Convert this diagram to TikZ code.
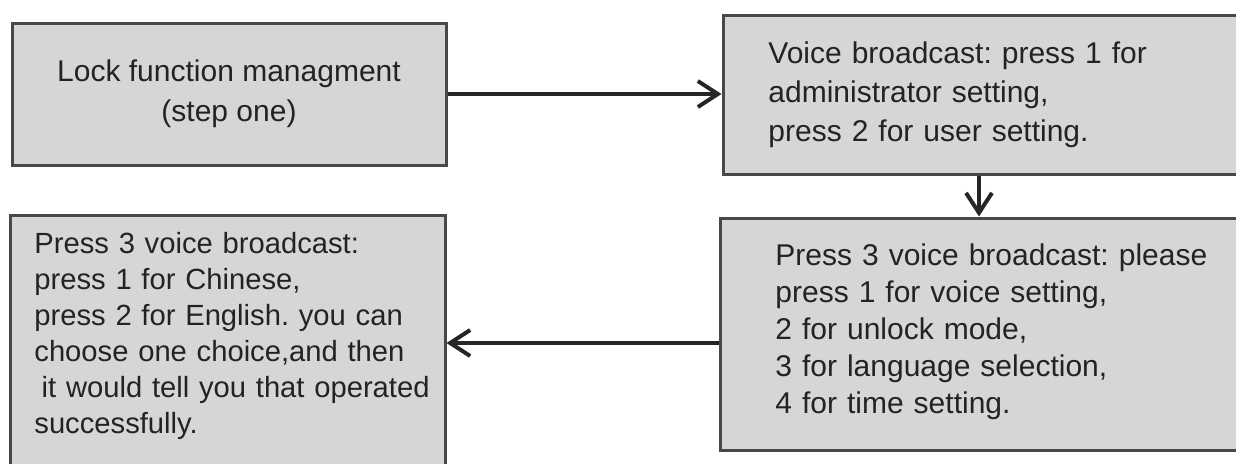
\documentclass[tikz,border=0pt]{standalone}
\usepackage{fontspec}
\setmainfont{Liberation Sans}
\usetikzlibrary{arrows.meta,calc}
\definecolor{boxfill}{RGB}{213,214,216}
\definecolor{boxline}{RGB}{72,72,72}
\definecolor{ink}{RGB}{35,35,35}
\frenchspacing
\tikzset{
	box/.style={draw=boxline, line width=1.5pt, fill=boxfill, inner sep=0pt},
	txt/.style={text=ink, align=left, text width=260pt, inner sep=0pt},
	arr/.style={draw=black!85, line width=2pt, -{Straight Barb[length=10pt,width=13pt]}}
}
\begin{document}
\begin{tikzpicture}[x=0.5pt,y=-0.5pt]
	\useasboundingbox (0,0) rectangle (1236,463);
	% boxes
	\node[box, minimum width=217pt, minimum height=71pt, text=ink, align=center, font=\fontsize{15pt}{20pt}\selectfont] (lock) at (229,94) {Lock function managment\\(step one)};
	\node[box, minimum width=273.5pt, minimum height=79.5pt] (admin) at (996.5,94.5) {};
	\node[box, minimum width=275pt, minimum height=116pt] (menu) at (995,334) {};
	\node[box, minimum width=217.5pt, minimum height=142.5pt] (lang) at (227.5,357.5) {};
	% texts
	\node[txt, anchor=base west, font=\fontsize{15pt}{19.5pt}\selectfont] (admintext) at (768,63) {Voice broadcast: press 1 for\\administrator setting,\\press 2 for user setting.};
	\node[txt, anchor=base west, font=\fontsize{15pt}{18.5pt}\selectfont] (menutext) at (775,265) {Press 3 voice broadcast: please\\press 1 for voice setting,\\2 for unlock mode,\\3 for language selection,\\4 for time setting.};
	\node[txt, anchor=base west, font=\fontsize{14.6pt}{18pt}\selectfont] (langtext) at (34,253) {Press 3 voice broadcast:\\press 1 for Chinese,\\press 2 for English. you can\\choose one choice,and then\\\hspace*{0.25em}it would tell you that operated\\successfully.};
	% arrows
	\coordinate (drop) at (979,0);
	\coordinate (back) at (0,343);
	\draw[arr] (lock.east) -- (lock.east -| admin.west);
	\draw[arr] (admin.south -| drop) -- (menu.north -| drop);
	\draw[arr] (menu.west |- back) -- (lang.east |- back);
\end{tikzpicture}
\end{document}
